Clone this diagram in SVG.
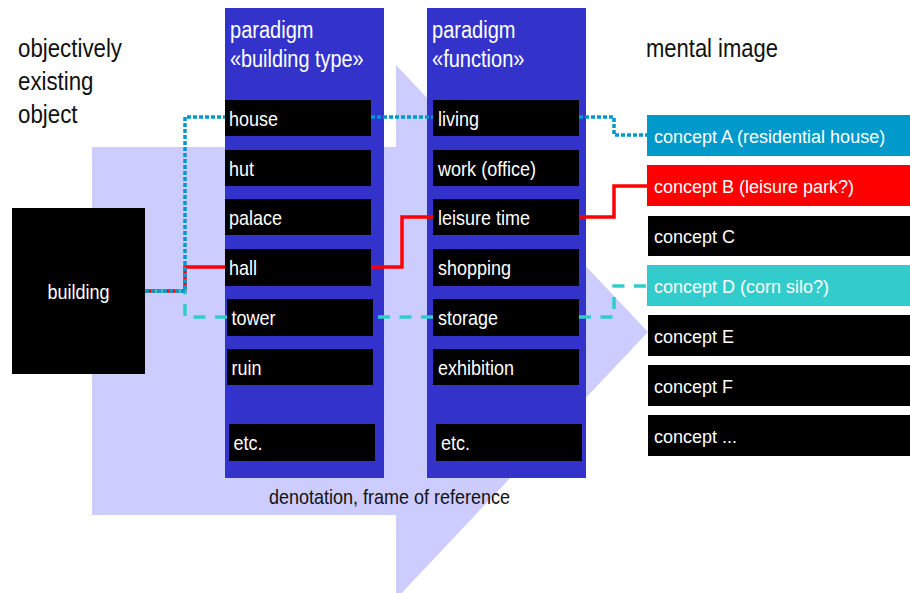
<svg xmlns="http://www.w3.org/2000/svg" width="910" height="593" viewBox="0 0 910 593">
<style>
text{font-family:"Liberation Sans",Arial,sans-serif}
.lbl{font-size:25px;fill:#111}
.ttl{font-size:23px;fill:#fff}
.itm{font-size:21px;fill:#fff}
.cpt{font-size:18px;fill:#fff}
.col{fill:#3333cc}
.box{fill:#000}
.red{fill:none;stroke:#ff0000;stroke-width:3.5}
.dot{fill:none;stroke:#0099cc;stroke-width:3.5;stroke-dasharray:4 2}
.dash{fill:none;stroke:#33cccc;stroke-width:3.5;stroke-dasharray:12 9.5}
</style>
<rect width="910" height="593" fill="#fff"/>
<polygon id="frame-arrow" points="92,147 396,147 396,65 648,332 396,599 396,515 92,515" fill="#ccccff"/>
<text class="lbl" x="18" y="57" textLength="104" lengthAdjust="spacingAndGlyphs">objectively</text>
<text class="lbl" x="18" y="90" textLength="75.5" lengthAdjust="spacingAndGlyphs">existing</text>
<text class="lbl" x="18" y="123" textLength="59.5" lengthAdjust="spacingAndGlyphs">object</text>
<text class="lbl" x="646" y="56.5" textLength="132" lengthAdjust="spacingAndGlyphs">mental image</text>
<text id="denotation" x="269" y="504" font-size="21" fill="#111" textLength="241" lengthAdjust="spacingAndGlyphs">denotation, frame of reference</text>
<g id="building">
<rect class="box" x="12" y="208" width="133" height="166"/>
<text class="itm" x="47.5" y="299" textLength="62" lengthAdjust="spacingAndGlyphs">building</text>
</g>
<g id="paradigm-building-type">
<rect class="col" x="225" y="8" width="159" height="470"/>
<text class="ttl" x="230" y="38" textLength="83.5" lengthAdjust="spacingAndGlyphs">paradigm</text>
<text class="ttl" x="230" y="67" textLength="133.5" lengthAdjust="spacingAndGlyphs">«building type»</text>
</g>
<g id="paradigm-function">
<rect class="col" x="427" y="8" width="159" height="470"/>
<text class="ttl" x="432" y="38" textLength="83.5" lengthAdjust="spacingAndGlyphs">paradigm</text>
<text class="ttl" x="432" y="67" textLength="92.5" lengthAdjust="spacingAndGlyphs">«function»</text>
</g>
<g id="connectors">
<path class="red" d="M145,291 H185 V267 H225 M371,267 H402 V217 H433 M579,217 H614 V186 H647"/>
<path class="dash" d="M227,317 H185 V291 H145"/>
<path class="dash" d="M433,317 H373"/>
<path class="dash" d="M579,317 H614 V286 H647"/>
<path class="dot" d="M145,291 H185 V117 H225"/>
<path class="dot" d="M371,117 H433"/>
<path class="dot" d="M579,117 H614 V135 H647"/>
</g>
<g id="house"><rect class="box" x="225" y="100" width="146" height="36"/><text class="itm" x="229" y="126" textLength="49" lengthAdjust="spacingAndGlyphs">house</text></g>
<g id="hut"><rect class="box" x="225" y="150" width="146" height="36"/><text class="itm" x="229" y="176" textLength="25" lengthAdjust="spacingAndGlyphs">hut</text></g>
<g id="palace"><rect class="box" x="225" y="199" width="146" height="36"/><text class="itm" x="229" y="225" textLength="53" lengthAdjust="spacingAndGlyphs">palace</text></g>
<g id="hall"><rect class="box" x="225" y="249" width="146" height="37"/><text class="itm" x="229" y="275" textLength="28" lengthAdjust="spacingAndGlyphs">hall</text></g>
<g id="tower"><rect class="box" x="227" y="299" width="146" height="37"/><text class="itm" x="231.5" y="325" textLength="44" lengthAdjust="spacingAndGlyphs">tower</text></g>
<g id="ruin"><rect class="box" x="227" y="349" width="146" height="36"/><text class="itm" x="231.5" y="375" textLength="30" lengthAdjust="spacingAndGlyphs">ruin</text></g>
<g id="etc-1"><rect class="box" x="229" y="424" width="146" height="37"/><text class="itm" x="233.5" y="450" textLength="29" lengthAdjust="spacingAndGlyphs">etc.</text></g>
<g id="living"><rect class="box" x="433" y="100" width="146" height="36"/><text class="itm" x="438" y="126" textLength="41" lengthAdjust="spacingAndGlyphs">living</text></g>
<g id="work"><rect class="box" x="433" y="150" width="146" height="36"/><text class="itm" x="438" y="176" textLength="98" lengthAdjust="spacingAndGlyphs">work (office)</text></g>
<g id="leisure-time"><rect class="box" x="433" y="199" width="146" height="36"/><text class="itm" x="438" y="225" textLength="92" lengthAdjust="spacingAndGlyphs">leisure time</text></g>
<g id="shopping"><rect class="box" x="433" y="249" width="146" height="37"/><text class="itm" x="438" y="275" textLength="73" lengthAdjust="spacingAndGlyphs">shopping</text></g>
<g id="storage"><rect class="box" x="433" y="299" width="146" height="37"/><text class="itm" x="438" y="325" textLength="60" lengthAdjust="spacingAndGlyphs">storage</text></g>
<g id="exhibition"><rect class="box" x="433" y="349" width="146" height="36"/><text class="itm" x="438" y="375" textLength="76" lengthAdjust="spacingAndGlyphs">exhibition</text></g>
<g id="etc-2"><rect class="box" x="436" y="424" width="146" height="37"/><text class="itm" x="441" y="450" textLength="29" lengthAdjust="spacingAndGlyphs">etc.</text></g>
<g id="concept-a"><rect x="647" y="115" width="263" height="41" fill="#0099cc"/><text class="cpt" x="654" y="143">concept A (residential house)</text></g>
<g id="concept-b"><rect x="647" y="165" width="263" height="41" fill="#ff0000"/><text class="cpt" x="654" y="193">concept B (leisure park?)</text></g>
<g id="concept-c"><rect class="box" x="648" y="216" width="262" height="40"/><text class="cpt" x="654" y="243">concept C</text></g>
<g id="concept-d"><rect x="647" y="265" width="263" height="41" fill="#33cccc"/><text class="cpt" x="654" y="293">concept D (corn silo?)</text></g>
<g id="concept-e"><rect class="box" x="648" y="315" width="262" height="41"/><text class="cpt" x="654" y="343">concept E</text></g>
<g id="concept-f"><rect class="box" x="648" y="365" width="262" height="41"/><text class="cpt" x="654" y="393">concept F</text></g>
<g id="concept-more"><rect class="box" x="648" y="415" width="262" height="41"/><text class="cpt" x="654" y="443">concept ...</text></g>
</svg>
